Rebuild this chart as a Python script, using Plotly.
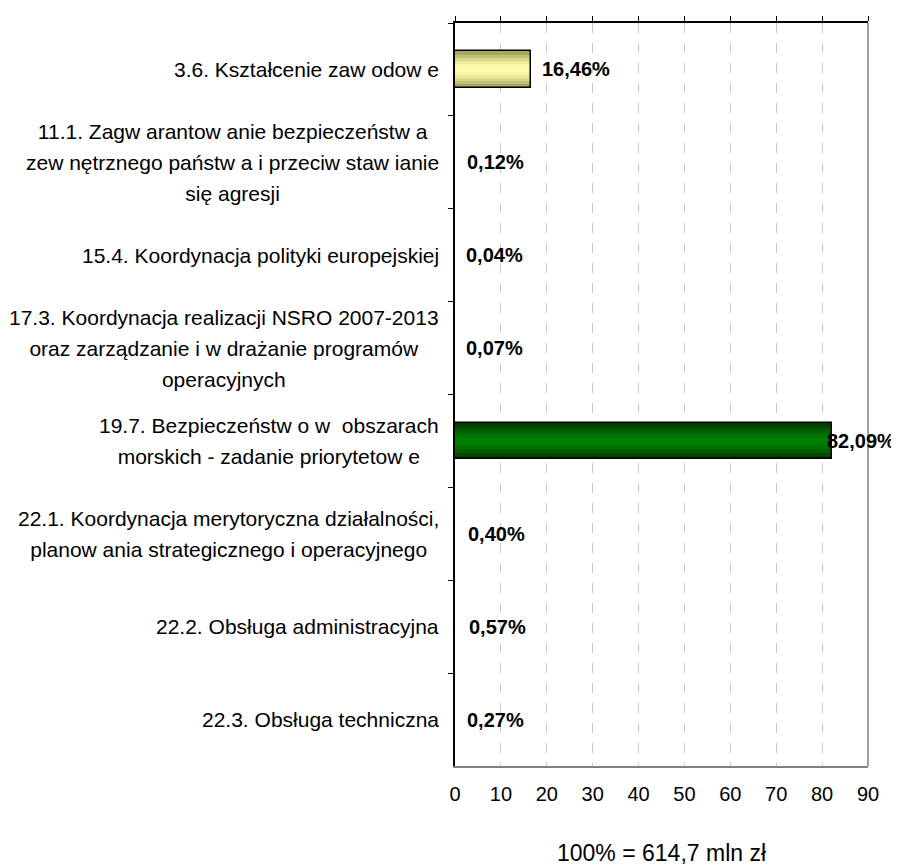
import plotly.graph_objects as go

categories = [
    "3.6. Kształcenie zaw odow e",
    "11.1. Zagw arantow anie bezpieczeństw a<br>zew nętrznego państw a i przeciw staw ianie<br>się agresji",
    "15.4. Koordynacja polityki europejskiej",
    "17.3. Koordynacja realizacji NSRO 2007-2013<br>oraz zarządzanie i w drażanie programów<br>operacyjnych",
    "19.7. Bezpieczeństw o w  obszarach<br>morskich - zadanie priorytetow e",
    "22.1. Koordynacja merytoryczna działalności,<br>planow ania strategicznego i operacyjnego",
    "22.2. Obsługa administracyjna",
    "22.3. Obsługa techniczna",
]
values = [16.46, 0.12, 0.04, 0.07, 82.09, 0.40, 0.57, 0.27]
x_ticks = [0, 10, 20, 30, 40, 50, 60, 70, 80, 90]
note = "100% = 614,7 mln zł"

# gradient palettes (edge -> centre) per bar; None = no visible fill
yellow = ["#A8A860", "#C2C274", "#D8D888", "#EAEA98", "#F6F6A4", "#FCFCAC"]
green = ["#003A00", "#004C00", "#005E00", "#006E00", "#007A00", "#008200"]
palettes = [yellow, None, None, None, green, None, None, None]
widths = [0.39, 0.32, 0.25, 0.18, 0.11, 0.05]

FONT = "Liberation Sans, Arial, sans-serif"

fig = go.Figure()
for i, w in enumerate(widths):
    cols = [p[i] if p else "rgba(0,0,0,0)" for p in palettes]
    fig.add_trace(go.Bar(
        x=values, y=categories, orientation="h", width=w,
        marker=dict(color=cols, line=dict(width=0)),
        hoverinfo="skip", showlegend=False,
    ))
# outline
fig.add_trace(go.Bar(
    x=values, y=categories, orientation="h", width=0.39,
    marker=dict(color="rgba(0,0,0,0)",
                line=dict(color="black", width=[1.5 if p else 0 for p in palettes])),
    showlegend=False,
))
# invisible trace so the top (tick-only) axis is drawn
fig.add_trace(go.Scatter(
    x=values, y=categories, xaxis="x2", mode="markers",
    marker=dict(opacity=0), hoverinfo="skip", showlegend=False,
))

annotations = []
for c, v in zip(categories, values):
    label = f"{v:.2f}".replace(".", ",") + "%"
    annotations.append(dict(
        x=v, y=c, xref="x", yref="y", text=f"<b>{label}</b>", showarrow=False,
        xanchor="left", yanchor="middle", xshift=(9 if v < 80 else -7),
        font=dict(family=FONT, size=20, color="black"),
    ))
    annotations.append(dict(
        x=0, y=c, xref="x", yref="y",
        text=f"<span style='font-size:21px'>{c}</span>", showarrow=False,
        xanchor="right", yanchor="middle", align="center", xshift=-14,
        font=dict(family=FONT, size=24, color="black"),
    ))
annotations.append(dict(
    x=0.5, y=0, xref="paper", yref="paper", text=note, showarrow=False,
    xanchor="center", yanchor="middle", yshift=-87,
    font=dict(family=FONT, size=23, color="black"),
))

fig.update_layout(
    width=891, height=860,
    margin=dict(l=447, r=31, t=10, b=102),
    paper_bgcolor="white", plot_bgcolor="white",
    barmode="overlay",
    bargap=0,
    annotations=annotations,
    font=dict(family=FONT, size=20, color="black"),
    xaxis=dict(
        range=[0, 90], tickvals=x_ticks, ticktext=[str(t) for t in x_ticks],
        showline=True, linecolor="#808080", linewidth=1.5,
        ticks="", showgrid=True, gridcolor="#C8C8C8", gridwidth=1,
        griddash="10px,10px", zeroline=False,
        tickfont=dict(family=FONT, size=20, color="black"),
        ticklabelstandoff=9,
    ),
    xaxis2=dict(
        range=[0, 90], tickvals=x_ticks, overlaying="x", side="top", anchor="y",
        showline=True, linecolor="black", linewidth=1.5,
        ticks="outside", ticklen=5, tickcolor="black", tickwidth=1,
        showticklabels=False, showgrid=False, zeroline=False,
    ),
    yaxis=dict(
        type="category", categoryorder="array", categoryarray=categories,
        range=[7.5, -0.5],
        showline=True, linecolor="black", linewidth=1.5,
        ticks="outside", ticklen=5, tickcolor="black", tickson="boundaries",
        showticklabels=False, showgrid=False, zeroline=False,
    ),
    shapes=[dict(type="line", xref="x domain", yref="y domain",
                 x0=1, x1=1, y0=0, y1=1, line=dict(color="#808080", width=1.5))],
)

fig.write_html("out.html")
